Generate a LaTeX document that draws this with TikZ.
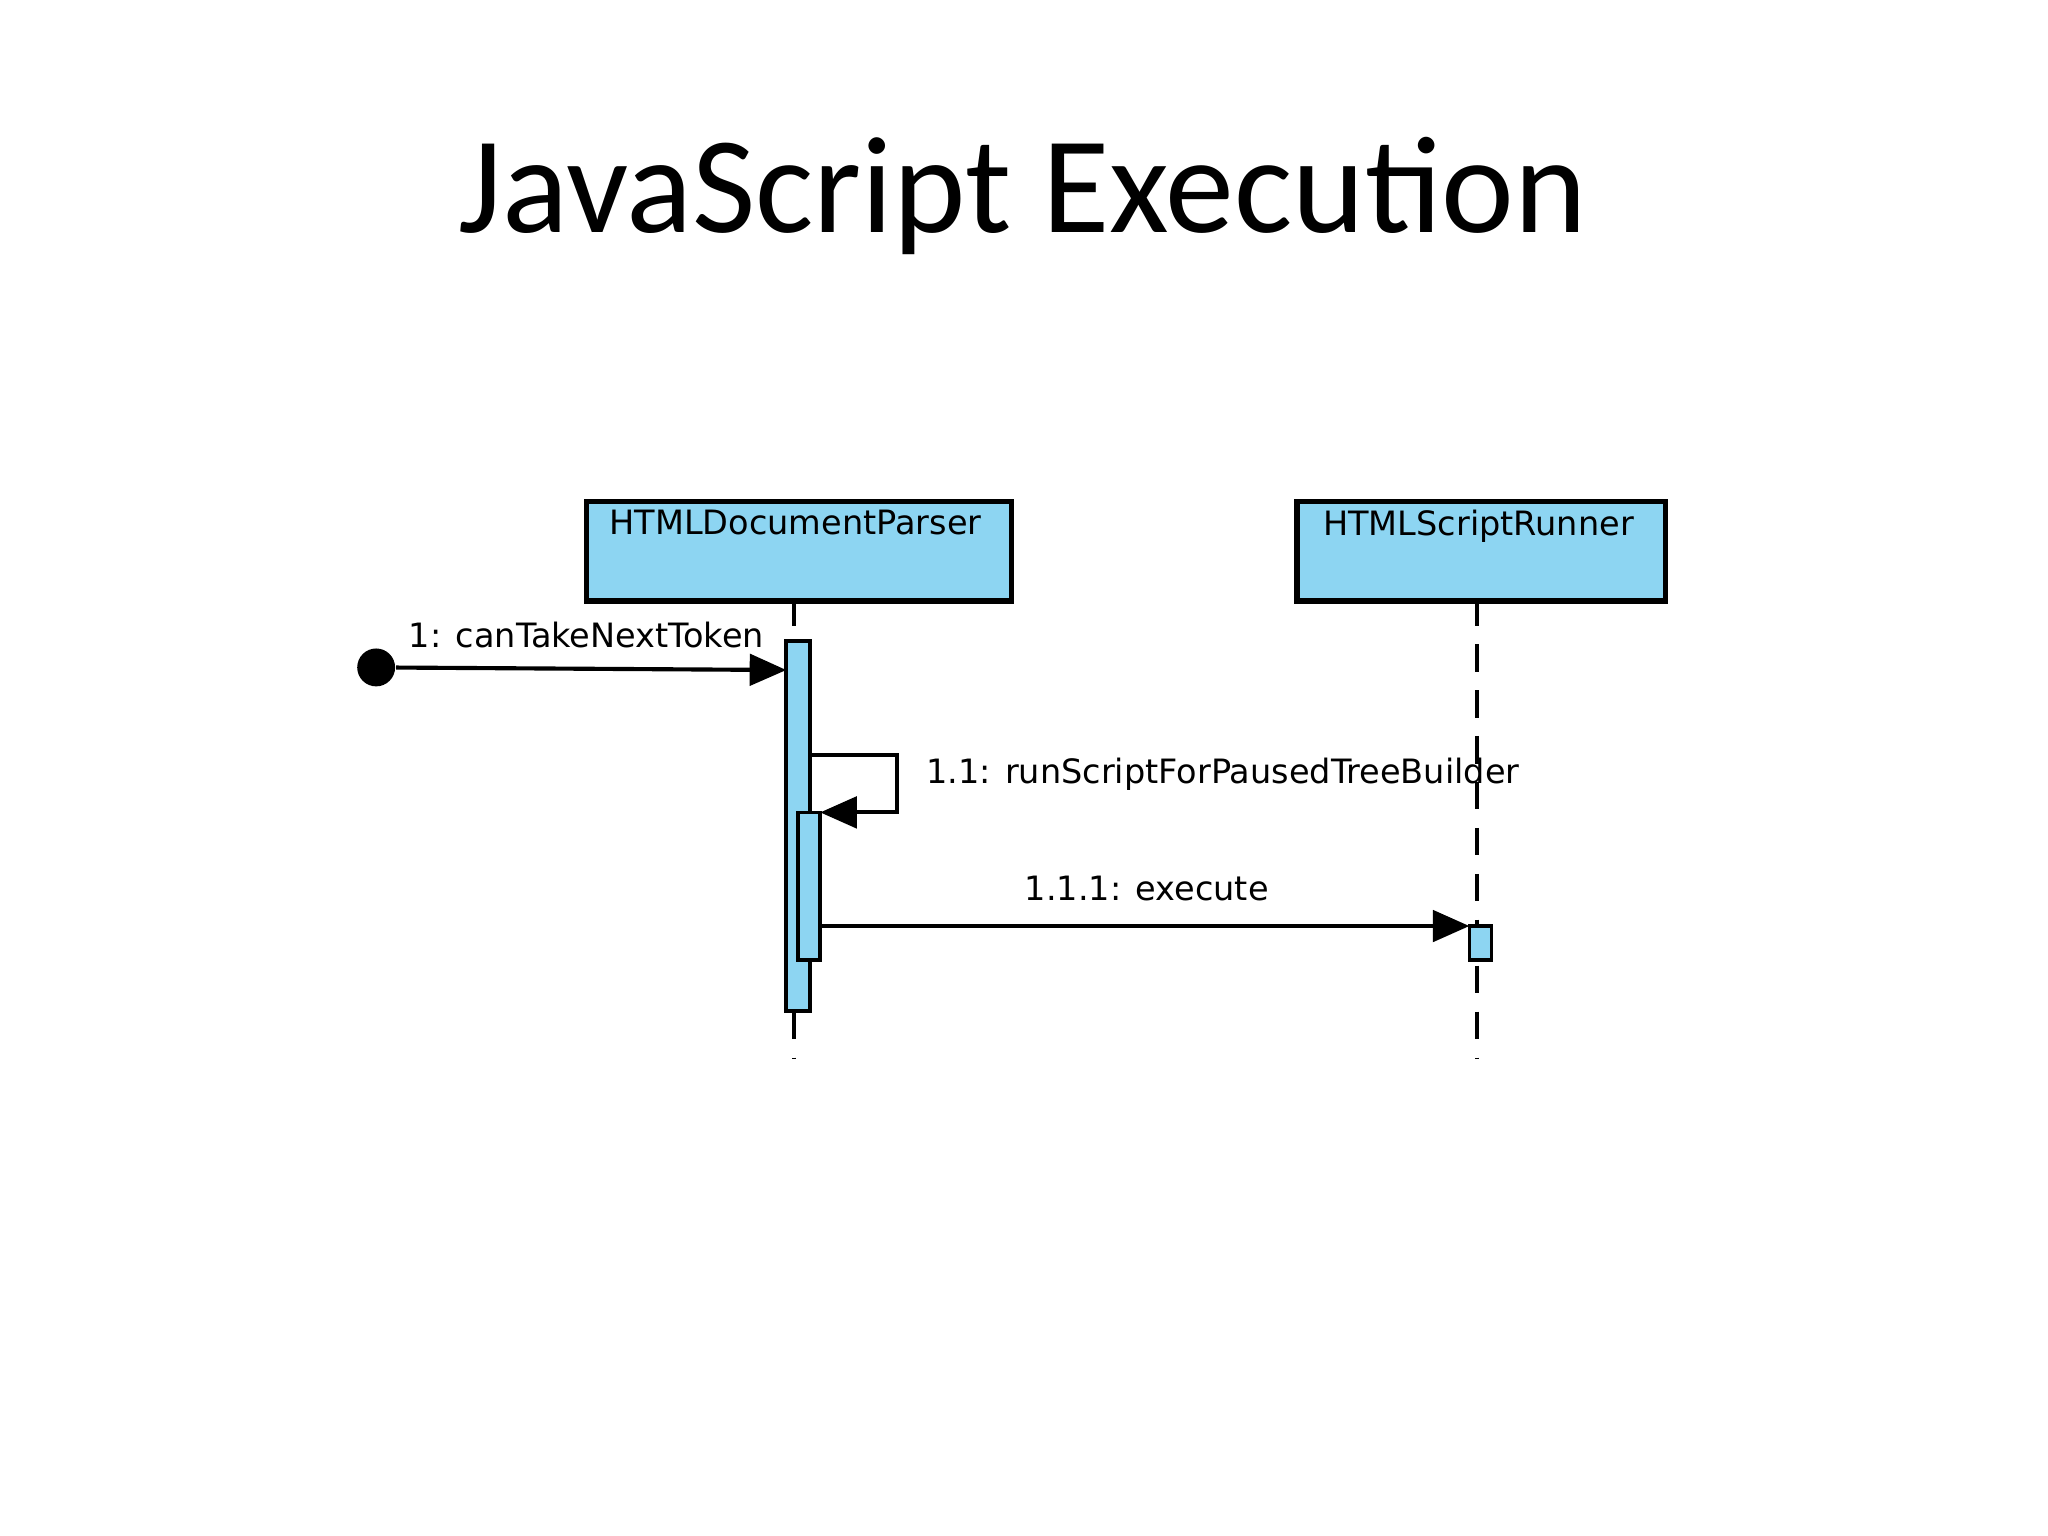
\documentclass[tikz,border=0pt]{standalone}
\usepackage{fontspec}
\setmainfont{Carlito}
\newfontfamily\diag{DejaVu Sans}
\usetikzlibrary{arrows.meta}
\definecolor{lb}{HTML}{8DD5F2}
\tikzset{
 obj/.style={draw, line width=1.2pt, fill=lb, minimum width=#1, minimum height=0.76cm, inner sep=0pt},
 act/.style={draw, line width=0.8pt, fill=lb},
 life/.style={dashed, line width=0.8pt, dash pattern=on 6pt off 4pt},
 msg/.style={line width=0.9pt, -{Triangle[length=0.28cm,width=0.24cm]}},
 lbl/.style={font=\diag\fontsize{7.3}{9}\selectfont, inner sep=1pt}
}
\begin{document}
\begin{tikzpicture}[x=0.01cm,y=-0.01cm]
\useasboundingbox (0,0) rectangle (1568,1176);
\node (title) at (783,150) {\fontsize{30}{36}\selectfont JavaScript Execution};
\node[obj=3.25cm, anchor=north west] (b1) at (447,382) {};
\node[lbl, anchor=north] at (609,386) {HTMLDocumentParser};
\node[obj=2.82cm, anchor=north west] (b2) at (991,382) {};
\node[lbl, anchor=north] at (1132,386) {HTMLScriptRunner};
\coordinate (l1e) at (608,810);
\coordinate (l2e) at (1131,810);
\draw[life] (608,458) -- (l1e);
\draw[life] (1131,458) -- (l2e);
\draw[act] (602,491) rectangle (620,774);
\draw[act] (611,622) rectangle (628,735);
\draw[act] (1125,709) rectangle (1142,735);
\node[circle, fill=black, minimum size=0.29cm, inner sep=0pt] (start) at (288,511) {};
\coordinate (a1) at (602,513);
\draw[msg] (start) -- (a1);
\node[lbl] at (449,486) {1: canTakeNextToken};
\coordinate (s0) at (620,578);
\coordinate (s1) at (628,622);
\draw[msg] (s0) -- (687,578) -- (687,622) -- (s1);
\node[lbl, anchor=west] at (705,593) {1.1: runScriptForPausedTreeBuilder};
\coordinate (e0) at (628,709);
\coordinate (e1) at (1125,709);
\draw[msg] (e0) -- (e1);
\node[lbl] at (878,680) {1.1.1: execute};
\end{tikzpicture}
\end{document}
